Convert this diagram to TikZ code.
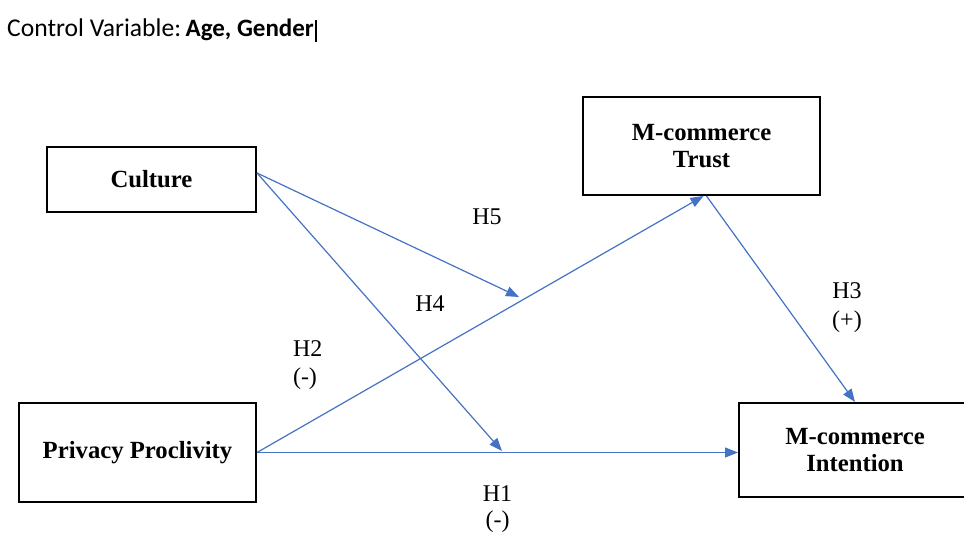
\documentclass[tikz,border=0pt]{standalone}
\usepackage{fontspec}
\setmainfont{Liberation Serif}
\newfontfamily\calibri{Carlito}
\usetikzlibrary{arrows.meta,calc}
\definecolor{wblue}{HTML}{4472C4}
\begin{document}
\begin{tikzpicture}[x=1pt,y=-1pt,
  box/.style={draw=black,line width=2pt,inner sep=0pt,align=center,
    font=\fontsize{24.7}{27.3}\selectfont\bfseries},
  conn/.style={draw=wblue,line width=1.2pt,-{Triangle[length=13pt,width=10pt]}},
  lab/.style={font=\fontsize{24}{26}\selectfont,inner sep=0pt,anchor=base}]
\useasboundingbox (0,0) rectangle (964,534);
\clip (0,0) rectangle (964,534);
\fill[white] (0,0) rectangle (964,534);

% title
\node[anchor=base west,inner sep=0pt,font=\calibri\fontsize{25.6}{27}\selectfont] (cv) at (7,37)
  {Control Variable:\hspace{4.5pt}{\fontsize{25}{27}\selectfont\bfseries Age, Gender}};
\draw[line width=1.3pt] ($(cv.base east)+(2,-16.5)$) -- ($(cv.base east)+(2,5.5)$);

% boxes
\node[box,minimum width=209pt,minimum height=65pt] (cul) at (151.5,179.5) {Culture};
\node[box,minimum width=237pt,minimum height=98pt] (tr) at (701.5,146) {M-commerce\\Trust};
\node[box,minimum width=237pt,minimum height=99pt] (pp) at (137.5,452.5) {Privacy Proclivity};
\node[box,minimum width=232pt,minimum height=94pt] (int) at (855,450) {M-commerce\\Intention};

% moderation points
\coordinate (m5) at (519,297);
\coordinate (m4) at (502,451);

% connectors
\draw[conn] (pp.east) -- ($(tr.south)+(2,0)$);
\draw[conn] (pp.east) -- (pp.east -| int.west);
\draw[conn] ($(tr.south)+(5,0)$) -- (int.north);
\draw[conn] ($(cul.east)+(0,-6.5)$) -- (m5);
\draw[conn] ($(cul.east)+(0,-6.5)$) -- (m4);

% labels
\node[lab] (h5) at (487,225) {H5};
\node[lab] (h4) at (430,312) {H4};
\node[lab] (h2) at (307.7,356.7) {H2};
\node[lab] (h2s) at (305,385) {(-)};
\node[lab] (h3) at (847,298.3) {H3};
\node[lab] (h3s) at (847,328) {(+)};
\node[lab] (h1) at (497.5,501) {H1};
\node[lab] (h1s) at (497.5,527.5) {(-)};
\end{tikzpicture}
\end{document}
